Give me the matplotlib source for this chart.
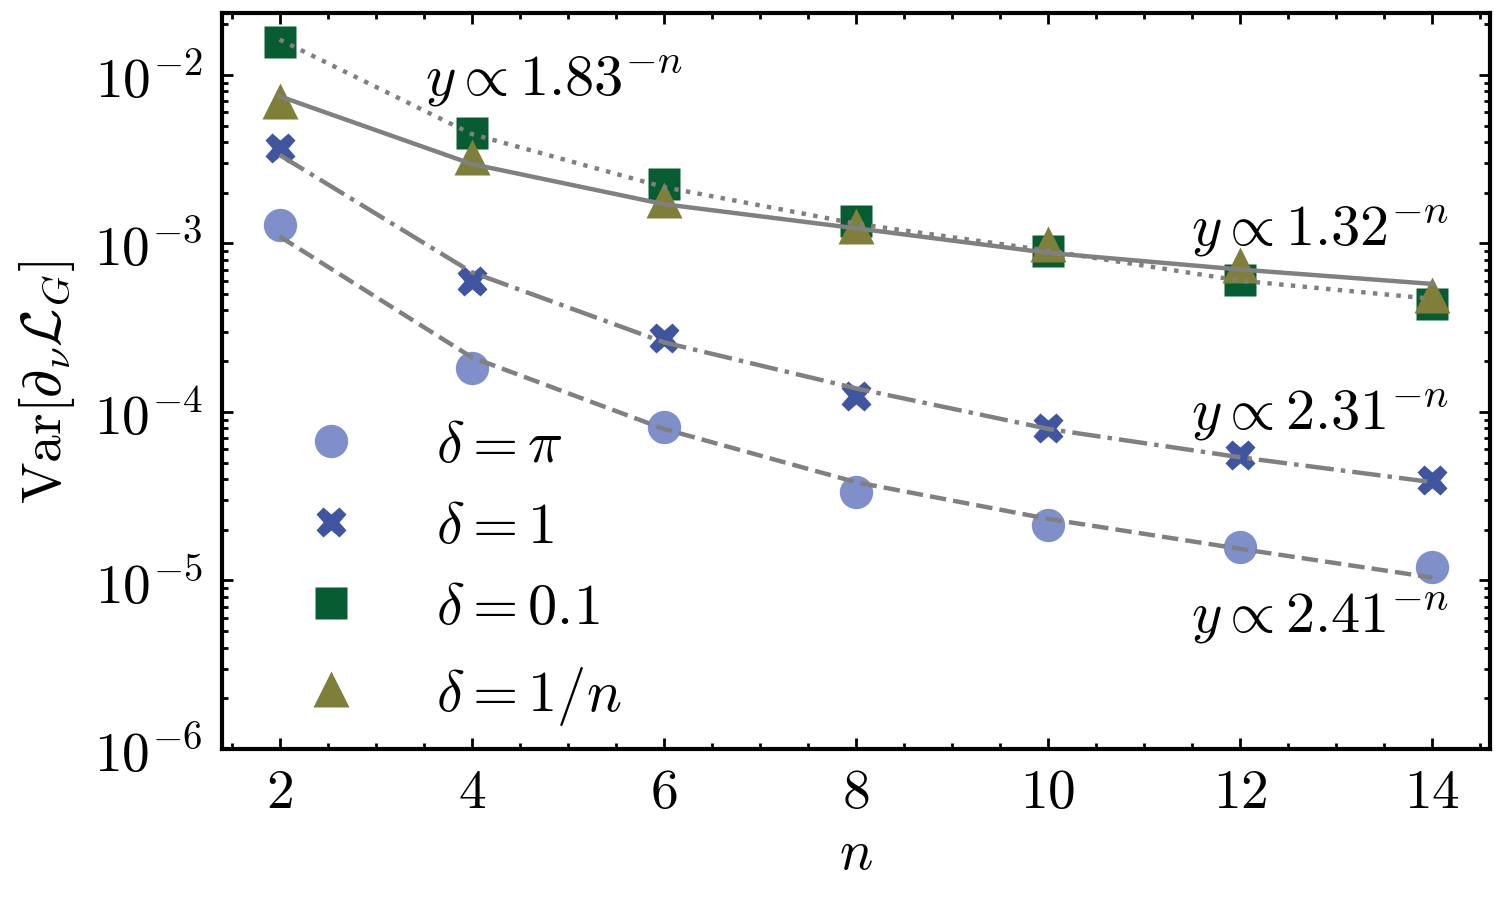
import matplotlib
matplotlib.use("Agg")
import matplotlib.pyplot as plt
from matplotlib.ticker import FuncFormatter, MultipleLocator, LogLocator

plt.rcParams['mathtext.fontset'] = 'cm'
plt.rcParams['font.family'] = 'serif'
plt.rcParams['font.serif'] = ['cmr10', 'DejaVu Serif']
plt.rcParams['axes.formatter.use_mathtext'] = True
plt.rcParams['axes.unicode_minus'] = False

# data
n = [2, 4, 6, 8, 10, 12, 14]
var_pi = [1.29e-3, 1.82e-4, 8.1e-5, 3.33e-5, 2.13e-5, 1.59e-5, 1.20e-5]
var_1 = [3.67e-3, 5.97e-4, 2.73e-4, 1.25e-4, 8.0e-5, 5.56e-5, 3.94e-5]
var_01 = [1.56e-2, 4.51e-3, 2.25e-3, 1.36e-3, 9.0e-4, 6.03e-4, 4.37e-4]
var_1n = [7.01e-3, 3.26e-3, 1.81e-3, 1.27e-3, 9.98e-4, 7.44e-4, 4.94e-4]

# fitted curves
fit_pi = [1.10e-3, 2.11e-4, 7.93e-5, 3.83e-5, 2.32e-5, 1.54e-5, 1.04e-5]
fit_1 = [3.35e-3, 6.75e-4, 2.59e-4, 1.38e-4, 7.93e-5, 5.38e-5, 3.83e-5]
fit_01 = [1.62e-2, 4.46e-3, 2.16e-3, 1.31e-3, 9.06e-4, 6.01e-4, 4.69e-4]
fit_1n = [7.47e-3, 2.96e-3, 1.71e-3, 1.23e-3, 8.79e-4, 7.0e-4, 5.75e-4]

fig = plt.figure(figsize=(7.52, 4.52), dpi=200)
ax = fig.add_axes([0.1476, 0.1704, 0.8431, 0.8141])

gray = '#808080'
ax.plot(n, fit_01, ':', color=gray, lw=1.6, zorder=3)
ax.plot(n, fit_1n, '-', color=gray, lw=1.6, zorder=3)
ax.plot(n, fit_1, '-.', color=gray, lw=1.6, zorder=3)
ax.plot(n, fit_pi, '--', color=gray, lw=1.6, zorder=3)

ax.plot(n, var_pi, 'o', ms=12, color='#7F8FCA', mec='none', ls='none', label=r'$\delta = \pi$', zorder=2)
ax.plot(n, var_1, 'X', ms=11, color='#3F55A0', mec='none', ls='none', label=r'$\delta = 1$', zorder=2)
ax.plot(n, var_01, 's', ms=11.5, color='#075C31', mec='none', ls='none', label=r'$\delta = 0.1$', zorder=2)
ax.plot(n, var_1n, '^', ms=13, color='#7F7F3A', mec='none', ls='none', label=r'$\delta = 1/n$', zorder=2)

ax.set_yscale('log')
ax.set_xlim(1.4, 14.6)
ax.set_ylim(1e-6, 2.33e-2)
ax.set_xticks(n)
ax.xaxis.set_minor_locator(MultipleLocator(0.5))
ax.xaxis.set_major_formatter(FuncFormatter(lambda v, p: r'$%d$' % v))
ax.yaxis.set_major_locator(LogLocator(base=10, numticks=20))
ax.yaxis.set_minor_locator(LogLocator(base=10, subs=range(2, 10), numticks=20))

ax.tick_params(which='both', direction='in', top=True, right=True, labelsize=20, width=1)
ax.tick_params(which='major', length=4, pad=7)
ax.tick_params(which='minor', length=2)
for s in ax.spines.values():
    s.set_linewidth(1.5)

ax.set_xlabel(r'$n$', fontsize=20)
ax.set_ylabel(r'$\mathrm{Var}[\partial_\nu \mathcal{L}_G]$', fontsize=20, labelpad=6)

ax.text(3.51, 7.7e-3, r'$y \propto 1.83^{-n}$', fontsize=21, ha='left', va='baseline')
ax.text(14.17, 9.9e-4, r'$y \propto 1.32^{-n}$', fontsize=21, ha='right', va='baseline')
ax.text(14.17, 8.0e-5, r'$y \propto 2.31^{-n}$', fontsize=21, ha='right', va='baseline')
ax.text(14.17, 4.97e-6, r'$y \propto 2.41^{-n}$', fontsize=21, ha='right', va='baseline')

ax.legend(loc='lower left', bbox_to_anchor=(0.012, -0.025), frameon=False, fontsize=21,
          numpoints=1, handlelength=1.8, handletextpad=0.9, labelspacing=0.5, borderaxespad=0.3)

fig.savefig('out.png', dpi=200)
